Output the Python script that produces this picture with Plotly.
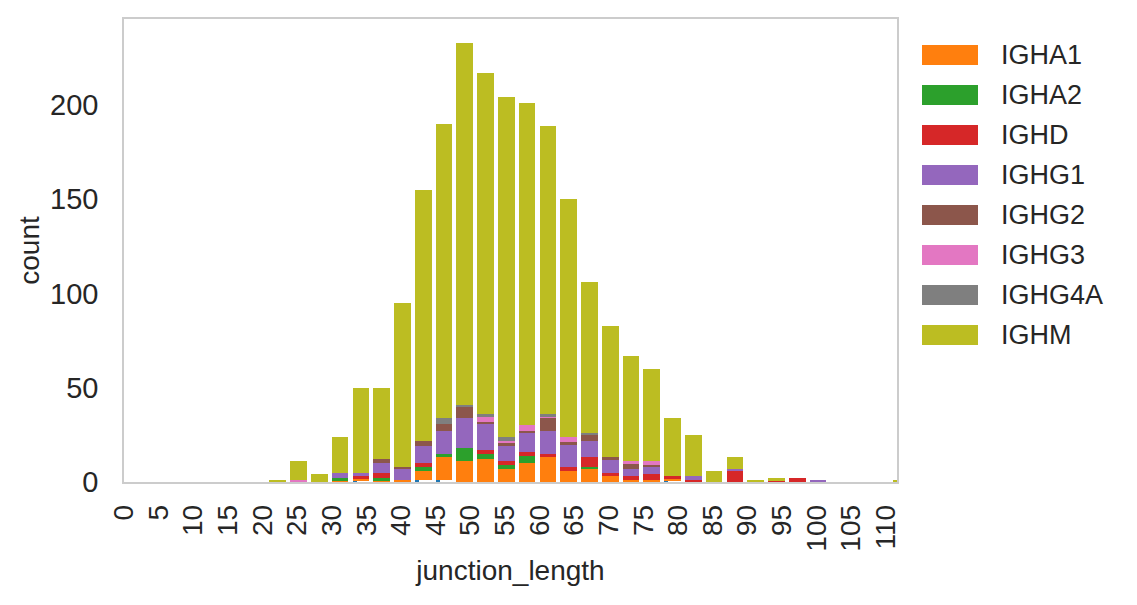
import plotly.graph_objects as go

# bin centres of junction_length histogram (bin width 3)
junction_length = [22.2, 25.2, 28.2, 31.2, 34.2, 37.2, 40.2, 43.2, 46.2, 49.2, 52.2,
                   55.2, 58.2, 61.2, 64.2, 67.2, 70.2, 73.2, 76.2, 79.2, 82.2, 85.2,
                   88.2, 91.2, 94.2, 97.2, 100.2, 103.2, 106.2, 109.2, 112.2]

unlabelled = [0, 0, 0, 0, 1, 0, 0, 1, 1, 0, 0, 0, 0, 0, 0, 0, 0, 0, 0, 1, 0, 0, 0, 0, 0, 0, 0, 0, 0, 0, 0]
IGHA1  = [0, 0, 0, 1, 1, 1, 1, 5, 12, 11, 12, 7, 10, 13, 6, 7, 3, 1, 1, 1, 0, 0, 0, 0, 0, 0, 0, 0, 0, 0, 0]
IGHA2  = [0, 0, 0, 1, 0, 1, 0, 2, 2, 7, 3, 2, 4, 0, 0, 1, 0, 0, 0, 0, 0, 0, 0, 0, 0, 0, 0, 0, 0, 0, 0]
IGHD   = [0, 0, 0, 0, 1, 3, 0, 2, 0, 0, 2, 2, 2, 2, 2, 5, 2, 2, 3, 1, 1, 0, 6, 0, 1, 2, 0, 0, 0, 0, 0]
IGHG1  = [0, 0, 0, 3, 2, 5, 6, 9, 12, 16, 14, 8, 10, 12, 12, 9, 7, 4, 4, 0, 2, 0, 1, 0, 0, 0, 1, 0, 0, 0, 0]
IGHG2  = [0, 0, 0, 0, 0, 2, 1, 3, 4, 6, 1, 2, 1, 7, 1, 3, 1, 3, 1, 0, 0, 0, 0, 0, 0, 0, 0, 0, 0, 0, 0]
IGHG3  = [0, 1, 0, 0, 0, 0, 0, 0, 0, 0, 3, 1, 3, 1, 3, 0, 0, 1, 2, 0, 0, 0, 0, 0, 0, 0, 0, 0, 0, 0, 0]
IGHG4A = [0, 0, 0, 0, 0, 0, 0, 0, 3, 1, 1, 2, 0, 1, 0, 1, 0, 0, 0, 0, 0, 0, 0, 0, 0, 0, 0, 0, 0, 0, 0]
IGHM   = [1, 10, 4, 19, 45, 38, 87, 133, 156, 192, 181, 180, 171, 153, 126, 80, 70, 56, 49, 31, 22, 6, 6, 1, 1, 0, 0, 0, 0, 0, 1]

series = [
    ("IGHA1", IGHA1, "#ff7f0e"),
    ("IGHA2", IGHA2, "#2ca02c"),
    ("IGHD", IGHD, "#d62728"),
    ("IGHG1", IGHG1, "#9467bd"),
    ("IGHG2", IGHG2, "#8c564b"),
    ("IGHG3", IGHG3, "#e377c2"),
    ("IGHG4A", IGHG4A, "#7f7f7f"),
    ("IGHM", IGHM, "#bcbd22"),
]

FONT = "Arial, Liberation Sans, sans-serif"
TXT = "#262626"
BAR_W = 2.4

fig = go.Figure()
fig.add_trace(go.Bar(x=junction_length, y=unlabelled, width=0.6, offset=-BAR_W / 2,
                     marker=dict(color="#1f77b4", line=dict(width=0)),
                     showlegend=False, name=""))
for name, vals, col in series:
    fig.add_trace(go.Bar(x=junction_length, y=vals, width=BAR_W, name=name,
                         marker=dict(color=col, line=dict(width=0)), showlegend=False))

# plot area in pixels: x 124..897, y 19..482
L, R, T, B = 124, 897, 19, 482
W, H = R - L, B - T

def px_x(p):
    return (p - L) / W

def px_y(p):
    return (B - p) / H

shapes = []
annotations = []
for i, (name, vals, col) in enumerate(series):
    cy = 55 + 40 * i
    shapes.append(dict(type="rect", xref="paper", yref="paper",
                       x0=px_x(922), x1=px_x(978), y0=px_y(cy + 10), y1=px_y(cy - 10),
                       fillcolor=col, line=dict(width=0)))
    annotations.append(dict(text=name, xref="paper", yref="paper", x=px_x(999), y=px_y(cy),
                            xanchor="left", yanchor="middle", showarrow=False,
                            font=dict(family=FONT, size=27, color=TXT)))

fig.update_layout(
    barmode="stack",
    width=1137, height=605,
    margin=dict(l=L, r=1137 - R, t=T, b=605 - B),
    paper_bgcolor="white", plot_bgcolor="white",
    font=dict(family=FONT, size=28, color=TXT),
    showlegend=False,
    shapes=shapes,
    annotations=annotations,
    xaxis=dict(range=[0, 111.6], tickmode="array", tickvals=list(range(0, 111, 5)),
               tickangle=-90, showgrid=False, zeroline=False,
               showline=True, mirror=True, linecolor="#cccccc", linewidth=1.5,
               ticks="", ticklabelstandoff=10, tickfont=dict(size=28),
               title=dict(text="junction_length", standoff=10, font=dict(size=28))),
    yaxis=dict(range=[0, 245.6], tickmode="array", tickvals=[0, 50, 100, 150, 200],
               showgrid=False, zeroline=False,
               showline=True, mirror=True, linecolor="#cccccc", linewidth=1.5,
               ticks="", ticklabelstandoff=18, tickfont=dict(size=29),
               title=dict(text="count", standoff=2, font=dict(size=28))),
)

fig.write_html("out.html")
